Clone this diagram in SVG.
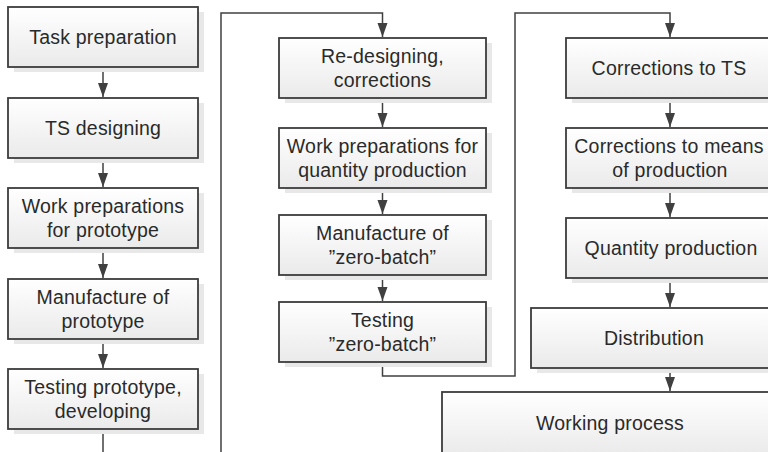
<svg xmlns="http://www.w3.org/2000/svg" width="768" height="452" viewBox="0 0 768 452">
  <defs>
    <linearGradient id="g" x1="0" y1="0" x2="0" y2="1">
      <stop offset="0" stop-color="#ffffff"/>
      <stop offset="1" stop-color="#eaeaea"/>
    </linearGradient>
    <marker id="arr" markerUnits="userSpaceOnUse" markerWidth="15" markerHeight="11" refX="14" refY="5" orient="auto">
      <path d="M0,0 L14,5 L0,10 z" fill="#404040"/>
    </marker>
  </defs>
  <style>
    .shadow { fill: #e8e8e8; }
    .box { fill: url(#g); stroke: #3c3c3c; stroke-width: 1.8; }
    .lbl { font-family: "Liberation Sans", Arial, sans-serif; font-size: 19.5px; letter-spacing: 0.2px; fill: #2a2a2a; text-anchor: middle; }
    .con { fill: none; stroke: #404040; stroke-width: 1.5; }
  </style>
  <rect width="768" height="452" fill="#ffffff"/>

  <g id="connectors">
    <path class="con" d="M103,67 V97" marker-end="url(#arr)"/>
    <path class="con" d="M103,158 V187" marker-end="url(#arr)"/>
    <path class="con" d="M103,248 V278" marker-end="url(#arr)"/>
    <path class="con" d="M103,339 V368" marker-end="url(#arr)"/>
    <path class="con" d="M103,429 V452"/>
    <path class="con" d="M221,452 V13 H382.5 V37" marker-end="url(#arr)"/>
    <path class="con" d="M382.5,98 V127" marker-end="url(#arr)"/>
    <path class="con" d="M382.5,188 V214" marker-end="url(#arr)"/>
    <path class="con" d="M382.5,275 V301" marker-end="url(#arr)"/>
    <path class="con" d="M382.5,362 V376 H515 V13 H670 V37" marker-end="url(#arr)"/>
    <path class="con" d="M670,98 V127" marker-end="url(#arr)"/>
    <path class="con" d="M670,188 V217" marker-end="url(#arr)"/>
    <path class="con" d="M670,278 V307" marker-end="url(#arr)"/>
    <path class="con" d="M670,368 V391" marker-end="url(#arr)"/>
  </g>

  <g id="task-preparation">
    <rect class="shadow" x="14" y="12" width="190" height="60"/>
    <rect class="box" x="8" y="7" width="190" height="60"/>
    <text class="lbl" x="103" y="44">Task preparation</text>
  </g>
  <g id="ts-designing">
    <rect class="shadow" x="14" y="103" width="190" height="60"/>
    <rect class="box" x="8" y="98" width="190" height="60"/>
    <text class="lbl" x="103" y="135">TS designing</text>
  </g>
  <g id="work-prep-prototype">
    <rect class="shadow" x="14" y="193" width="190" height="60"/>
    <rect class="box" x="8" y="188" width="190" height="60"/>
    <text class="lbl" x="103" y="213">Work preparations</text>
    <text class="lbl" x="103" y="237">for prototype</text>
  </g>
  <g id="manufacture-prototype">
    <rect class="shadow" x="14" y="284" width="190" height="60"/>
    <rect class="box" x="8" y="279" width="190" height="60"/>
    <text class="lbl" x="103" y="304">Manufacture of</text>
    <text class="lbl" x="103" y="328">prototype</text>
  </g>
  <g id="testing-prototype">
    <rect class="shadow" x="14" y="374" width="190" height="60"/>
    <rect class="box" x="8" y="369" width="190" height="60"/>
    <text class="lbl" x="103" y="394">Testing prototype,</text>
    <text class="lbl" x="103" y="418">developing</text>
  </g>

  <g id="re-designing">
    <rect class="shadow" x="285" y="43" width="207" height="60"/>
    <rect class="box" x="279" y="38" width="207" height="60"/>
    <text class="lbl" x="382.5" y="63">Re-designing,</text>
    <text class="lbl" x="382.5" y="87">corrections</text>
  </g>
  <g id="work-prep-quantity">
    <rect class="shadow" x="285" y="133" width="207" height="60"/>
    <rect class="box" x="279" y="128" width="207" height="60"/>
    <text class="lbl" x="382.5" y="153">Work preparations for</text>
    <text class="lbl" x="382.5" y="177">quantity production</text>
  </g>
  <g id="manufacture-zero-batch">
    <rect class="shadow" x="285" y="220" width="207" height="60"/>
    <rect class="box" x="279" y="215" width="207" height="60"/>
    <text class="lbl" x="382.5" y="240">Manufacture of</text>
    <text class="lbl" x="382.5" y="264">”zero-batch”</text>
  </g>
  <g id="testing-zero-batch">
    <rect class="shadow" x="285" y="307" width="207" height="60"/>
    <rect class="box" x="279" y="302" width="207" height="60"/>
    <text class="lbl" x="382.5" y="327">Testing</text>
    <text class="lbl" x="382.5" y="351">”zero-batch”</text>
  </g>

  <g id="corrections-ts">
    <rect class="shadow" x="572" y="43" width="208" height="60"/>
    <rect class="box" x="566" y="38" width="208" height="60"/>
    <text class="lbl" x="669" y="75">Corrections to TS</text>
  </g>
  <g id="corrections-means">
    <rect class="shadow" x="572" y="133" width="208" height="60"/>
    <rect class="box" x="566" y="128" width="208" height="60"/>
    <text class="lbl" x="669" y="153">Corrections to means</text>
    <text class="lbl" x="670" y="177">of production</text>
  </g>
  <g id="quantity-production">
    <rect class="shadow" x="572" y="223" width="208" height="60"/>
    <rect class="box" x="566" y="218" width="208" height="60"/>
    <text class="lbl" x="671" y="255">Quantity production</text>
  </g>
  <g id="distribution">
    <rect class="shadow" x="537" y="313" width="246" height="60"/>
    <rect class="box" x="531" y="308" width="246" height="60"/>
    <text class="lbl" x="654" y="345">Distribution</text>
  </g>
  <g id="working-process">
    <rect class="shadow" x="448" y="397" width="336" height="64"/>
    <rect class="box" x="442" y="392" width="336" height="64"/>
    <text class="lbl" x="610" y="430">Working process</text>
  </g>
</svg>
